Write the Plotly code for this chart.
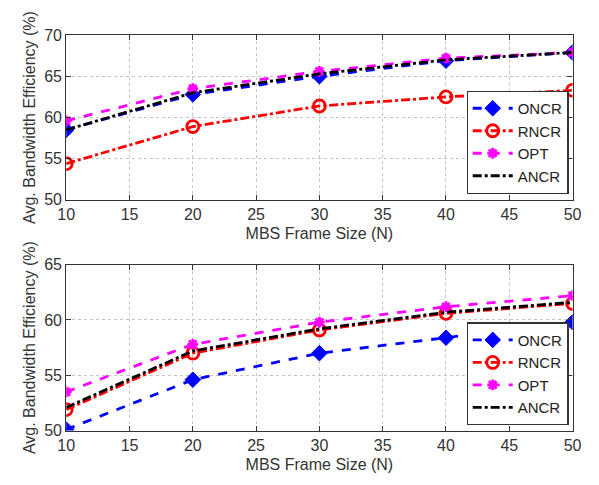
import plotly.graph_objects as go
from plotly.subplots import make_subplots

frame_size = [10, 20, 30, 40, 50]

# Top panel
top_oncr = [58.5, 62.8, 65.0, 66.9, 67.9]
top_rncr = [54.4, 58.9, 61.4, 62.5, 63.3]
top_opt = [59.6, 63.5, 65.6, 67.2, 67.9]
top_ancr = [58.5, 63.0, 65.3, 67.0, 67.9]

# Bottom panel
bot_oncr = [50.1, 54.6, 57.0, 58.4, 59.8]
bot_rncr = [51.9, 57.0, 59.1, 60.6, 61.5]
bot_opt = [53.5, 57.8, 59.8, 61.2, 62.2]
bot_ancr = [52.1, 57.2, 59.2, 60.7, 61.6]

series_names = ["ONCR", "RNCR", "OPT", "ANCR"]

fig = make_subplots(rows=2, cols=1)

styles = {
    "ONCR": dict(line=dict(color="#0000ff", dash="dash", width=2.8),
                 marker=dict(symbol="diamond", size=12, color="#0000ff",
                             line=dict(color="#0000ff", width=1)), mode="lines+markers"),
    "RNCR": dict(line=dict(color="#ff0000", dash="dashdot", width=2.8),
                 marker=dict(symbol="circle-open", size=12, color="#ff0000",
                             line=dict(color="#ff0000", width=2.8)), mode="lines+markers"),
    "OPT": dict(line=dict(color="#ff00ff", dash="dash", width=2.8),
                marker=dict(symbol="asterisk-open", size=9, color="#ff00ff",
                            line=dict(color="#ff00ff", width=2.8)), mode="lines+markers"),
    "ANCR": dict(line=dict(color="#000000", dash="dashdot", width=2.8),
                 mode="lines"),
}

top_data = [top_oncr, top_rncr, top_opt, top_ancr]
bot_data = [bot_oncr, bot_rncr, bot_opt, bot_ancr]

for name, vals in zip(series_names, top_data):
    fig.add_trace(go.Scatter(x=frame_size, y=vals, name=name, legend="legend",
                             **styles[name]), row=1, col=1)
for name, vals in zip(series_names, bot_data):
    fig.add_trace(go.Scatter(x=frame_size, y=vals, name=name, legend="legend2",
                             **styles[name]), row=2, col=1)

font_family = "Liberation Sans, Arial, sans-serif"
axis_common = dict(
    showline=True, linecolor="#333333", linewidth=1.2, mirror="allticks",
    ticks="inside", ticklen=5, tickcolor="#333333",
    showgrid=True, gridcolor="#c4c4c4", griddash="dot", gridwidth=1,
    zeroline=False, tickfont=dict(size=16, color="#333333", family=font_family),
)

fig.update_xaxes(range=[10, 50], tickvals=[10, 15, 20, 25, 30, 35, 40, 45, 50],
                 title=dict(text="MBS Frame Size (N)", standoff=5,
                            font=dict(size=16, color="#333333", family=font_family)),
                 **axis_common)
fig.update_xaxes(domain=[0.0985, 0.970], row=1, col=1)
fig.update_xaxes(domain=[0.0985, 0.970], row=2, col=1)

fig.update_yaxes(title=dict(text="Avg. Bandwidth Efficiency (%)", standoff=4,
                            font=dict(size=16, color="#333333", family=font_family)),
                 **axis_common)
fig.update_yaxes(range=[50, 70], dtick=5, domain=[0.590, 0.942], row=1, col=1)
fig.update_yaxes(range=[50, 65], dtick=5, domain=[0.097, 0.4515], row=2, col=1)

legend_common = dict(
    bgcolor="white", bordercolor="#333333", borderwidth=1.2,
    font=dict(size=15, color="#222222", family=font_family),
    xanchor="right", yanchor="bottom", x=0.963, itemwidth=40,
    tracegroupgap=0, itemsizing="trace",
)
fig.update_layout(
    width=599, height=485,
    margin=dict(l=0, r=0, t=0, b=0),
    paper_bgcolor="white", plot_bgcolor="white",
    legend=dict(y=0.603, **legend_common),
    legend2=dict(y=0.108, **legend_common),
    showlegend=True,
)

fig.write_html("out.html")
